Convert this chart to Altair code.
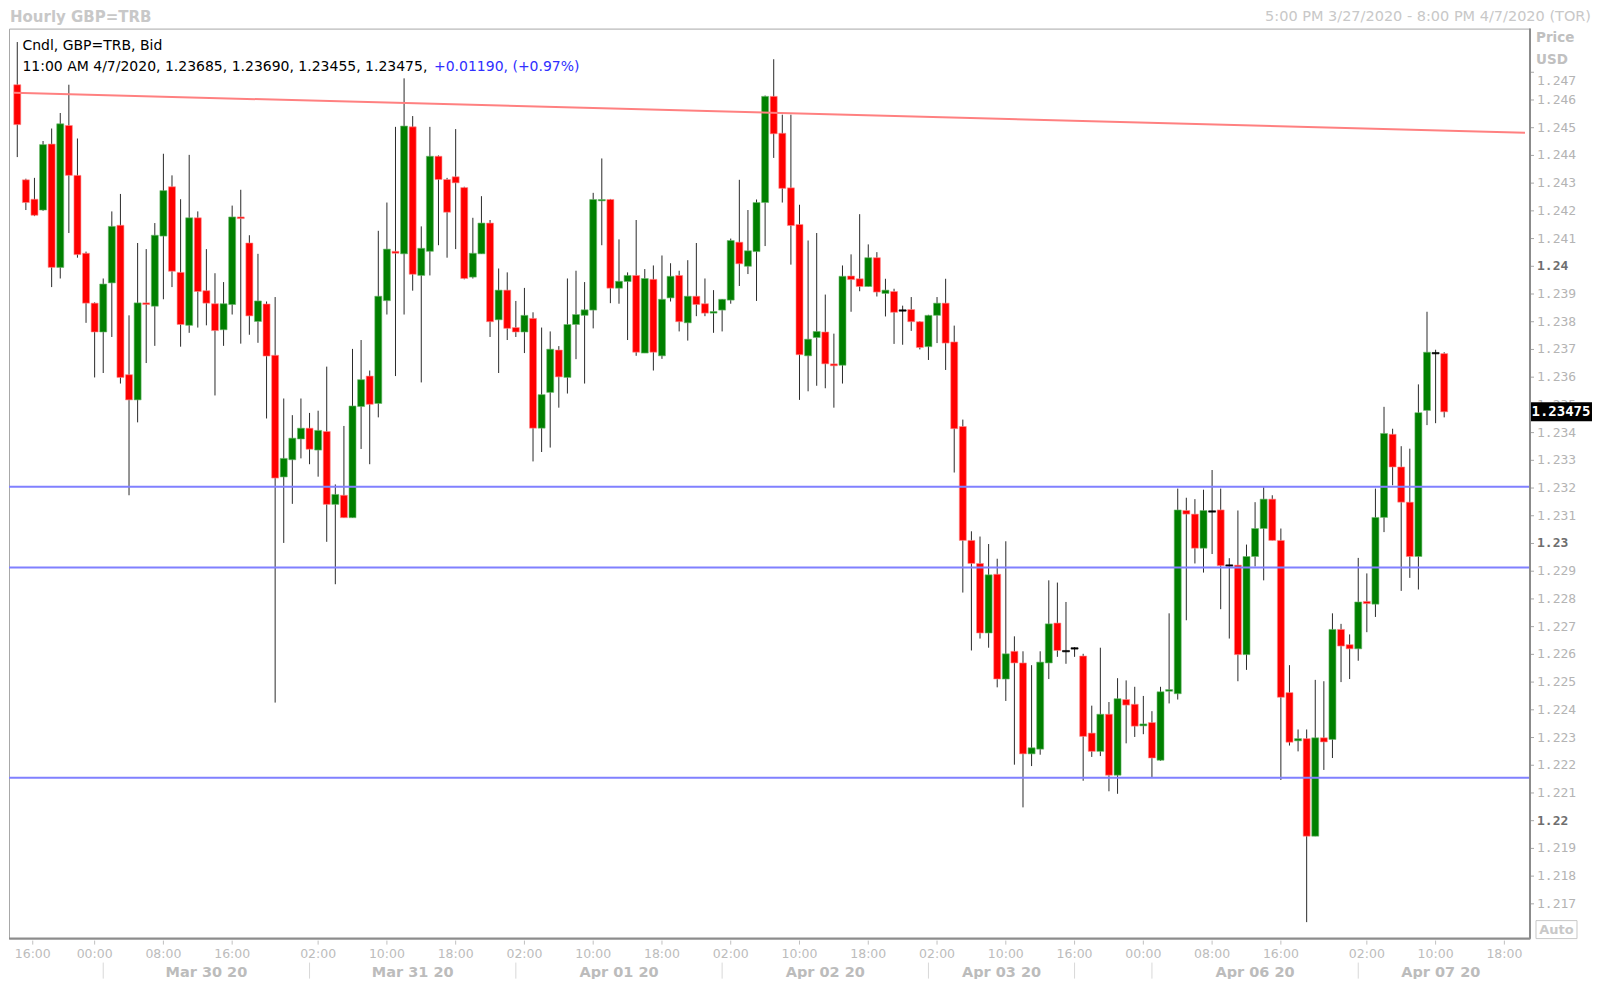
import altair as alt
import pandas as pd

# ---------------- data (hourly GBP=TRB candles, index 0 = first bar) ----------------
opens = [1.24655, 1.24312, 1.24242, 1.24203, 1.24441, 1.23996, 1.24508, 1.24328, 1.24047, 1.23867,
         1.23763, 1.23940, 1.24148, 1.23609, 1.23518, 1.23868, 1.23856, 1.24109, 1.24287, 1.23978,
         1.23787, 1.24175, 1.23912, 1.23865, 1.23771, 1.23862, 1.24178, 1.24084, 1.23801, 1.23864,
         1.23679, 1.23240, 1.23302, 1.23377, 1.23416, 1.23337, 1.23404, 1.23141, 1.23174, 1.23093,
         1.23494, 1.23604, 1.23505, 1.23876, 1.24054, 1.24045, 1.24503, 1.23967, 1.24054, 1.24397,
         1.24313, 1.24323, 1.24284, 1.23961, 1.24045, 1.24156, 1.23807, 1.23914, 1.23779, 1.23763,
         1.23812, 1.23416, 1.23545, 1.23698, 1.23599, 1.23790, 1.23823, 1.23842, 1.24236, 1.24241,
         1.23921, 1.23945, 1.23967, 1.23687, 1.23953, 1.23677, 1.23886, 1.23967, 1.23796, 1.23892,
         1.23865, 1.23831, 1.23842, 1.23878, 1.24087, 1.24000, 1.24053, 1.24230, 1.24613, 1.24480,
         1.24283, 1.24151, 1.23677, 1.23743, 1.23763, 1.23648, 1.23643, 1.23965, 1.23955, 1.23927,
         1.24031, 1.23902, 1.23909, 1.23843, 1.23844, 1.23800, 1.23710, 1.23823, 1.23867, 1.23727,
         1.23422, 1.23011, 1.22928, 1.22677, 1.22889, 1.22511, 1.22611, 1.22569, 1.22241, 1.22258,
         1.22569, 1.22713, 1.22614, 1.22624, 1.22594, 1.22316, 1.22250, 1.22384, 1.22164, 1.22437,
         1.22420, 1.22342, 1.22354, 1.22218, 1.22467, 1.22458, 1.23119, 1.23106, 1.22983, 1.23118,
         1.23121, 1.22923, 1.22922, 1.22599, 1.22953, 1.23054, 1.23160, 1.23011, 1.22462, 1.22288,
         1.22296, 1.21944, 1.22299, 1.22293, 1.22690, 1.22635, 1.22620, 1.22791, 1.22781, 1.23094,
         1.23394, 1.23276, 1.23149, 1.22953, 1.23480, 1.23689, 1.23685]
highs = [1.24809, 1.24316, 1.24319, 1.24452, 1.24497, 1.24553, 1.24655, 1.24461, 1.24053, 1.23870,
         1.23956, 1.24198, 1.24261, 1.23823, 1.24084, 1.24062, 1.24156, 1.24406, 1.24328, 1.24242,
         1.24402, 1.24198, 1.24062, 1.23975, 1.23943, 1.24219, 1.24276, 1.24112, 1.24045, 1.23873,
         1.23889, 1.23523, 1.23463, 1.23523, 1.23471, 1.23479, 1.23638, 1.23213, 1.23424, 1.23702,
         1.23734, 1.23624, 1.24128, 1.24230, 1.24503, 1.24678, 1.24542, 1.24144, 1.24503, 1.24400,
         1.24319, 1.24495, 1.24287, 1.24175, 1.24253, 1.24167, 1.23992, 1.23978, 1.23875, 1.23922,
         1.23834, 1.23779, 1.23765, 1.23712, 1.23956, 1.23984, 1.23943, 1.24265, 1.24389, 1.24243,
         1.24097, 1.23978, 1.24167, 1.23990, 1.24003, 1.24039, 1.24011, 1.23984, 1.24022, 1.24084,
         1.23956, 1.23914, 1.23882, 1.24100, 1.24312, 1.24203, 1.24241, 1.24616, 1.24747, 1.24547,
         1.24547, 1.24222, 1.24093, 1.24120, 1.23898, 1.23757, 1.24003, 1.24043, 1.24188, 1.24079,
         1.24051, 1.23955, 1.23919, 1.23858, 1.23889, 1.23802, 1.23825, 1.23889, 1.23955, 1.23786,
         1.23447, 1.23044, 1.23025, 1.22998, 1.22945, 1.23008, 1.22665, 1.22611, 1.22561, 1.22611,
         1.22867, 1.22859, 1.22789, 1.22626, 1.22602, 1.22415, 1.22624, 1.22428, 1.22514, 1.22506,
         1.22483, 1.22450, 1.22395, 1.22483, 1.22748, 1.23198, 1.23165, 1.23160, 1.23194, 1.23265,
         1.23198, 1.22947, 1.23119, 1.22996, 1.23149, 1.23203, 1.23174, 1.23054, 1.22561, 1.22329,
         1.22329, 1.22508, 1.22503, 1.22748, 1.22710, 1.22672, 1.22948, 1.22892, 1.23198, 1.23493,
         1.23414, 1.23351, 1.23342, 1.23574, 1.23836, 1.23699, 1.23690]
lows = [1.24394, 1.24203, 1.24181, 1.24200, 1.23925, 1.23956, 1.24120, 1.24031, 1.23796, 1.23599,
        1.23615, 1.23745, 1.23577, 1.23174, 1.23437, 1.23651, 1.23713, 1.23881, 1.23925, 1.23710,
        1.23760, 1.23779, 1.23787, 1.23534, 1.23713, 1.23826, 1.23721, 1.23753, 1.23724, 1.23451,
        1.22426, 1.23002, 1.23143, 1.23307, 1.23286, 1.23241, 1.23006, 1.22853, 1.23093, 1.23093,
        1.23341, 1.23286, 1.23455, 1.23826, 1.23604, 1.23826, 1.23912, 1.23581, 1.23967, 1.24076,
        1.24031, 1.24062, 1.23953, 1.23956, 1.24045, 1.23745, 1.23615, 1.23734, 1.23745, 1.23687,
        1.23296, 1.23330, 1.23346, 1.23490, 1.23541, 1.23665, 1.23577, 1.23776, 1.24076, 1.23867,
        1.23865, 1.23734, 1.23677, 1.23687, 1.23624, 1.23666, 1.23873, 1.23765, 1.23732, 1.23820,
        1.23820, 1.23760, 1.23765, 1.23865, 1.23929, 1.23972, 1.23875, 1.24073, 1.24391, 1.24230,
        1.24006, 1.23518, 1.23549, 1.23569, 1.23560, 1.23490, 1.23577, 1.23836, 1.23910, 1.23927,
        1.23891, 1.23819, 1.23720, 1.23717, 1.23767, 1.23700, 1.23662, 1.23723, 1.23626, 1.23256,
        1.22823, 1.22614, 1.22657, 1.22624, 1.22481, 1.22432, 1.22202, 1.22048, 1.22197, 1.22238,
        1.22511, 1.22591, 1.22566, 1.22591, 1.22144, 1.22230, 1.22233, 1.22106, 1.22097, 1.22279,
        1.22302, 1.22312, 1.22155, 1.22216, 1.22423, 1.22437, 1.22723, 1.22928, 1.22895, 1.22962,
        1.22763, 1.22657, 1.22503, 1.22544, 1.22917, 1.22867, 1.23011, 1.22147, 1.22271, 1.22250,
        1.21634, 1.21944, 1.22183, 1.22226, 1.22500, 1.22511, 1.22577, 1.22680, 1.22735, 1.23041,
        1.23210, 1.22829, 1.22876, 1.22834, 1.23427, 1.23434, 1.23455]
closes = [1.24511, 1.24230, 1.24184, 1.24439, 1.23996, 1.24514, 1.24328, 1.24042, 1.23867, 1.23763,
          1.23936, 1.24144, 1.23599, 1.23518, 1.23868, 1.23862, 1.24112, 1.24273, 1.23982, 1.23790,
          1.24175, 1.23909, 1.23867, 1.23768, 1.23865, 1.24178, 1.24172, 1.23821, 1.23875, 1.23676,
          1.23236, 1.23307, 1.23380, 1.23416, 1.23340, 1.23408, 1.23141, 1.23177, 1.23093, 1.23496,
          1.23591, 1.23502, 1.23892, 1.24062, 1.24047, 1.24506, 1.23971, 1.24065, 1.24397, 1.24313,
          1.24195, 1.24301, 1.23956, 1.24047, 1.24156, 1.23800, 1.23914, 1.23776, 1.23763, 1.23823,
          1.23416, 1.23537, 1.23701, 1.23601, 1.23790, 1.23826, 1.23843, 1.24241, 1.24241, 1.23921,
          1.23946, 1.23967, 1.23690, 1.23956, 1.23690, 1.23881, 1.23964, 1.23800, 1.23892, 1.23862,
          1.23831, 1.23837, 1.23881, 1.24093, 1.24009, 1.24056, 1.24230, 1.24613, 1.24478, 1.24281,
          1.24147, 1.23681, 1.23737, 1.23765, 1.23648, 1.23641, 1.23964, 1.23952, 1.23927, 1.24031,
          1.23907, 1.23914, 1.23834, 1.23843, 1.23800, 1.23707, 1.23823, 1.23867, 1.23723, 1.23414,
          1.23011, 1.22928, 1.22677, 1.22887, 1.22511, 1.22602, 1.22569, 1.22241, 1.22263, 1.22572,
          1.22710, 1.22614, 1.22614, 1.22624, 1.22304, 1.22250, 1.22384, 1.22164, 1.22440, 1.22417,
          1.22341, 1.22349, 1.22226, 1.22465, 1.22473, 1.23121, 1.23106, 1.22983, 1.23119, 1.23118,
          1.22920, 1.22923, 1.22599, 1.22953, 1.23054, 1.23160, 1.23011, 1.22445, 1.22283, 1.22296,
          1.21944, 1.22299, 1.22284, 1.22690, 1.22630, 1.22620, 1.22789, 1.22783, 1.23094, 1.23397,
          1.23276, 1.23149, 1.22953, 1.23472, 1.23690, 1.23689, 1.23475]

# horizontal support / resistance levels and the falling trend line
support_levels = [1.23205, 1.22913, 1.22155]
trend_x = [-0.38, 175.4]
trend_y = [1.24626, 1.24482]

# axis labels
y_ticks = [1.217, 1.218, 1.219, 1.22, 1.221, 1.222, 1.223, 1.224, 1.225, 1.226, 1.227, 1.228,
           1.229, 1.23, 1.231, 1.232, 1.233, 1.234, 1.235, 1.236, 1.237, 1.238, 1.239, 1.24,
           1.241, 1.242, 1.243, 1.244, 1.245, 1.246, 1.247]
time_pos = [1.8, 9, 17, 25, 35, 43, 51, 59, 67, 75, 83, 91, 99, 107, 115, 123, 131, 139, 147, 157, 165, 173]
time_lbl = ["16:00", "00:00", "08:00", "16:00", "02:00", "10:00", "18:00", "02:00", "10:00", "18:00",
            "02:00", "10:00", "18:00", "02:00", "10:00", "16:00", "00:00", "08:00", "16:00", "02:00",
            "10:00", "18:00"]
date_pos = [22, 46, 70, 94, 114.5, 144, 165.6]
date_lbl = ["Mar 30 20", "Mar 31 20", "Apr 01 20", "Apr 02 20", "Apr 03 20", "Apr 06 20", "Apr 07 20"]
day_sep = [10, 34, 58, 82, 106, 123, 132, 156]

# ---------------- chart ----------------
W, H = 1521, 910
xs = alt.Scale(domain=[-0.38, 175.4], nice=False, zero=False)
ys = alt.Scale(domain=[1.215746, 1.248575], nice=False, zero=False)

df = pd.DataFrame({"i": list(range(len(opens))), "open": opens, "high": highs,
                   "low": lows, "close": closes})

LIGHT = "#b4b4b4"
DARK = "#6e6e6e"

X = lambda f: alt.X(f, scale=xs, axis=None)
Y = lambda f: alt.Y(f, scale=ys, axis=None)

wicks = alt.Chart(df).mark_rule(color="#2a2a2a", strokeWidth=1).encode(
    x=X("i:Q"), y=Y("low:Q"), y2="high:Q")

bodies = alt.Chart(df).transform_calculate(
    top="max(datum.open, datum.close)",
    bot0="min(datum.open, datum.close)",
).transform_calculate(
    bot="datum.top - datum.bot0 < 0.00005 ? datum.top - 0.00005 : datum.bot0",
    dir="datum.close > datum.open ? 'up' : (datum.close < datum.open ? 'down' : 'flat')",
).mark_bar(size=7, strokeWidth=0.6).encode(
    x=X("i:Q"), y=Y("top:Q"), y2="bot:Q",
    color=alt.Color("dir:N", scale=alt.Scale(domain=["up", "down", "flat"],
                                             range=["#008000", "#ff0000", "#000000"]), legend=None),
    stroke=alt.Stroke("dir:N", scale=alt.Scale(domain=["up", "down", "flat"],
                                               range=["#6fb86f", "#ff8c8c", "#000000"]), legend=None),
)

sup = alt.Chart(pd.DataFrame({"lvl": support_levels})).mark_rule(
    color="#8080ff", strokeWidth=2).encode(y=Y("lvl:Q"))

trend = alt.Chart(pd.DataFrame({"x": trend_x, "y": trend_y})).mark_line(
    color="#ff8080", strokeWidth=2, clip=True).encode(x=X("x:Q"), y=Y("y:Q"))

# ---- price axis (right) drawn from the y scale ----
ydf = pd.DataFrame({"v": y_ticks})
bold_test = "datum.v == 1.24 || datum.v == 1.23 || datum.v == 1.22"
y_tick_marks = alt.Chart(ydf).mark_rule(color="#a8a8a8", strokeWidth=1).encode(
    x=alt.value(W), x2=alt.value(W + 4), y=Y("v:Q"))
y_lab_norm = alt.Chart(ydf).transform_filter(
    "!(" + bold_test + ") && datum.v != 1.247").transform_calculate(
    t="format(datum.v, '.3~f')").mark_text(
    align="left", baseline="middle", font="DejaVu Sans Mono", fontSize=13, color=LIGHT).encode(
    x=alt.value(W + 7), y=Y("v:Q"), text="t:N")
y_lab_top = alt.Chart(ydf).transform_filter("datum.v == 1.247").transform_calculate(
    t="format(datum.v, '.3~f')").mark_text(
    align="left", baseline="middle", font="DejaVu Sans Mono", fontSize=13, color=LIGHT, dy=9).encode(
    x=alt.value(W + 7), y=Y("v:Q"), text="t:N")
y_lab_bold = alt.Chart(ydf).transform_filter(bold_test).transform_calculate(
    t="format(datum.v, '.3~f')").mark_text(
    align="left", baseline="middle", font="DejaVu Sans Mono", fontSize=13, fontWeight="bold",
    color=DARK).encode(x=alt.value(W + 7), y=Y("v:Q"), text="t:N")

# ---- time axis (bottom) drawn from the x scale ----
tdf = pd.DataFrame({"p": time_pos, "t": time_lbl})
x_tick_marks = alt.Chart(tdf).mark_rule(color="#c0c0c0", strokeWidth=1).encode(
    x=X("p:Q"), y=alt.value(H + 2), y2=alt.value(H + 6))
x_labels = alt.Chart(tdf).mark_text(
    baseline="middle", font="DejaVu Sans", fontSize=12.5, color="#bcbcbc").encode(
    x=X("p:Q"), y=alt.value(H + 15), text="t:N")

dates = alt.Chart(pd.DataFrame({"p": date_pos, "t": date_lbl})).mark_text(
    font="DejaVu Sans", fontSize=14.5, fontWeight="bold", color="#bcbcbc", baseline="middle").encode(
    x=X("p:Q"), y=alt.value(H + 34.5), text="t:N")

seps = alt.Chart(pd.DataFrame({"s": day_sep})).mark_rule(color="#d8d8d8", strokeWidth=1).encode(
    x=X("s:Q"), y=alt.value(H + 24), y2=alt.value(H + 40))

one = pd.DataFrame({"a": [0]})


def label(text, x, y, **kw):
    return alt.Chart(one).mark_text(text=text, baseline="middle", **kw).encode(
        x=alt.value(x), y=alt.value(y))


header1 = label("Cndl, GBP=TRB, Bid", 13.4, 17.4, align="left", font="DejaVu Sans",
                fontSize=14, color="#000000")
header2 = label("11:00 AM 4/7/2020, 1.23685, 1.23690, 1.23455, 1.23475,", 13.4, 38.7,
                align="left", font="DejaVu Sans", fontSize=14, color="#000000")
header3 = label("+0.01190, (+0.97%)", 425, 38.7, align="left", font="DejaVu Sans",
                fontSize=14, color="#3030ff")
title_l = label("Hourly GBP=TRB", 1, -12, align="left", font="DejaVu Sans", fontSize=15,
                fontWeight="bold", color="#c8c8c8")
title_r = label("5:00 PM 3/27/2020 - 8:00 PM 4/7/2020 (TOR)", 1582, -12, align="right",
                font="DejaVu Sans", fontSize=14.5, color="#c8c8c8")
price_t = label("Price", W + 6, 9.4, align="left", font="DejaVu Sans", fontSize=13.5,
                fontWeight="bold", color="#c0c0c0")
usd_t = label("USD", W + 6, 31, align="left", font="DejaVu Sans", fontSize=13.5,
              fontWeight="bold", color="#c0c0c0")

last = pd.DataFrame({"p": [closes[-1]], "t": [format(closes[-1], ".5f")]})
pbox = alt.Chart(last).mark_rect(color="#000000", yOffset=-9.5, y2Offset=9.5).encode(
    x=alt.value(W), x2=alt.value(W + 62), y=Y("p:Q"), y2="p:Q")
ptext = alt.Chart(last).mark_text(font="DejaVu Sans Mono", fontSize=14, fontWeight="bold",
                                  color="#ffffff", align="center", baseline="middle").encode(
    x=alt.value(W + 31), y=Y("p:Q"), text="t:N")

auto_box = alt.Chart(one).mark_rect(fill="#ffffff", stroke="#c8c8c8", strokeWidth=1).encode(
    x=alt.value(W + 6), x2=alt.value(W + 47), y=alt.value(H - 18), y2=alt.value(H))
auto_t = label("Auto", W + 26.5, H - 9, align="center", font="DejaVu Sans", fontSize=13,
               fontWeight="bold", color="#c8c8c8")

edge_r = alt.Chart(one).mark_rule(color="#8c8c8c", strokeWidth=2).encode(
    x=alt.value(W), y=alt.value(0), y2=alt.value(H))
edge_b = alt.Chart(one).mark_rule(color="#8c8c8c", strokeWidth=2).encode(
    x=alt.value(0), x2=alt.value(W), y=alt.value(H))

chart = alt.layer(
    wicks, bodies, sup, trend, y_tick_marks, y_lab_norm, y_lab_top, y_lab_bold,
    x_tick_marks, x_labels, seps, dates, header1, header2, header3, title_l, title_r,
    price_t, usd_t, pbox, ptext, auto_box, auto_t, edge_r, edge_b,
).properties(
    width=W, height=H,
    padding={"left": 1, "top": 20.6, "right": 62, "bottom": 40},
    autosize=alt.AutoSizeParams(type="none"),
    background="#ffffff",
).configure_view(stroke="#a8a8a8", strokeWidth=1)

chart.save("out.html", embed_options={"renderer": "svg", "actions": False})
